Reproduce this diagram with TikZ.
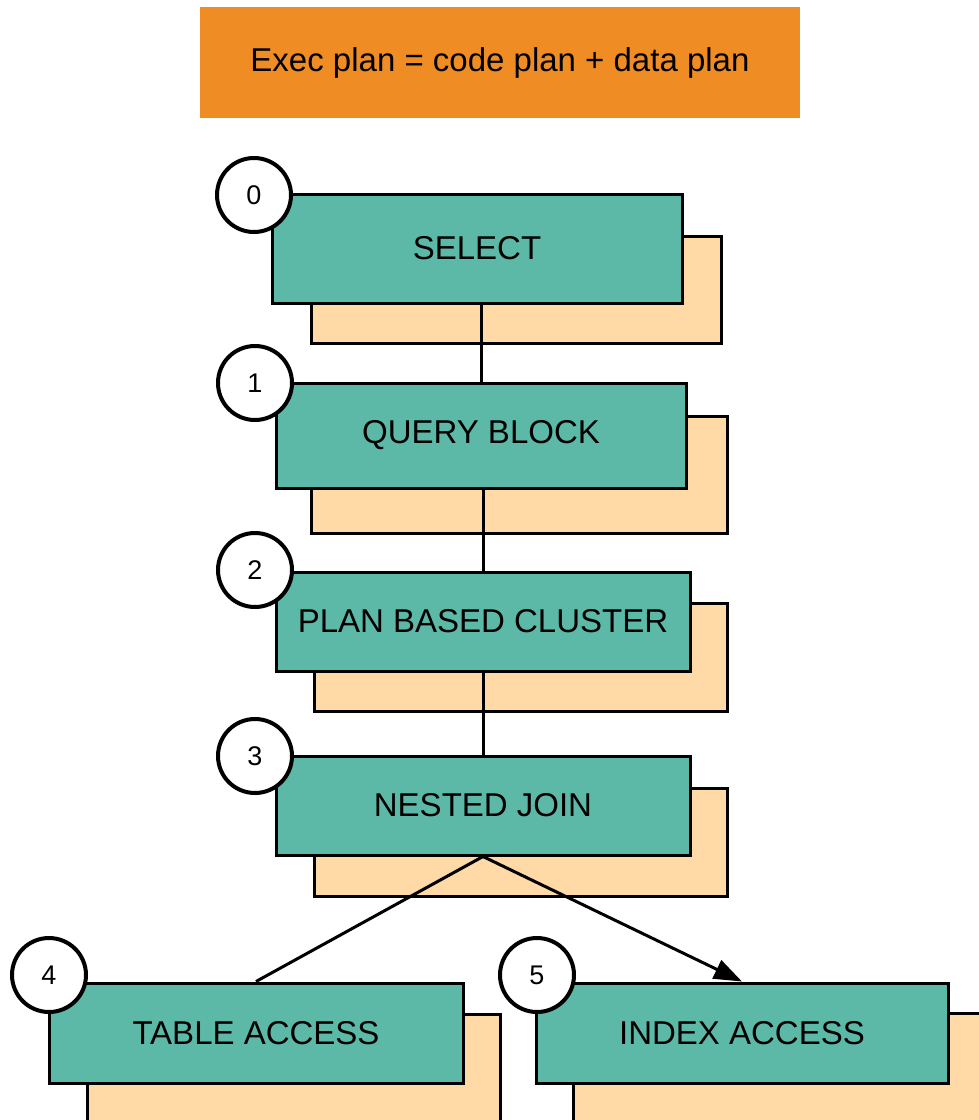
\documentclass[tikz,border=0pt]{standalone}
\usepackage{fontspec}
\setmainfont{Liberation Sans}
\usetikzlibrary{arrows.meta}
\definecolor{orangeC}{HTML}{EF8C23}
\definecolor{greenC}{HTML}{5CB9A7}
\definecolor{peachC}{HTML}{FFD9A6}
\begin{document}
\begin{tikzpicture}[x=1pt,y=-1pt,
  title/.style={fill=orangeC, draw=none, minimum width=600pt, minimum height=111pt, inner sep=0pt, font=\fontsize{33}{40}\selectfont},
  opbox/.style={fill=greenC, draw=black, line width=3pt, inner sep=0pt, font=\fontsize{33}{40}\selectfont},
  databox/.style={fill=peachC, draw=black, line width=3pt},
  numcirc/.style={circle, fill=white, draw=black, line width=4pt, minimum size=74pt, inner sep=0pt, font=\fontsize{27}{32}\selectfont},
  link/.style={draw=black, line width=3pt},
]
\useasboundingbox (0,0) rectangle (979,1120);

% title
\node[title] (title) at (500,62.5) {Exec plan = code plan + data plan};

% data plan (peach) boxes
\draw[databox] (311,236) rectangle (721,343);
\draw[databox] (311,416) rectangle (727,533);
\draw[databox] (314,603) rectangle (727,711);
\draw[databox] (314,788) rectangle (727,896);
\draw[databox] (87,1014) rectangle (500,1140);
\draw[databox] (573,1013) rectangle (1000,1140);

% code plan (green) boxes
\node[opbox, minimum width=410pt, minimum height=109pt] (sel) at (477,248.5) {SELECT};
\node[opbox, minimum width=410pt, minimum height=105pt] (qb) at (481,435.5) {QUERY BLOCK};
\node[opbox, minimum width=414pt, minimum height=99pt] (pbc) at (483,621.5) {PLAN BASED CLUSTER};
\node[opbox, minimum width=414pt, minimum height=99pt] (nj) at (483,805.5) {NESTED JOIN};
\node[opbox, minimum width=414pt, minimum height=100pt] (ta) at (256,1033) {TABLE ACCESS};
\node[opbox, minimum width=412pt, minimum height=100pt] (ia) at (742,1033) {INDEX ACCESS};

% connectors
\draw[link] (qb.north |- sel.south) -- (qb.north);
\draw[link] (pbc.north |- qb.south) -- (pbc.north);
\draw[link] (pbc.south) -- (nj.north);
\draw[link] (nj.south) -- (ta.north);
\draw[link, -{Triangle[length=28pt,width=20pt]}] (nj.south) -- (ia.north);

% number circles
\node[numcirc] (c0) at (254,195) {0};
\node[numcirc] (c1) at (255,383) {1};
\node[numcirc] (c2) at (255,570) {2};
\node[numcirc] (c3) at (255,756) {3};
\node[numcirc] (c4) at (49,975) {4};
\node[numcirc] (c5) at (537,975) {5};
\end{tikzpicture}
\end{document}
